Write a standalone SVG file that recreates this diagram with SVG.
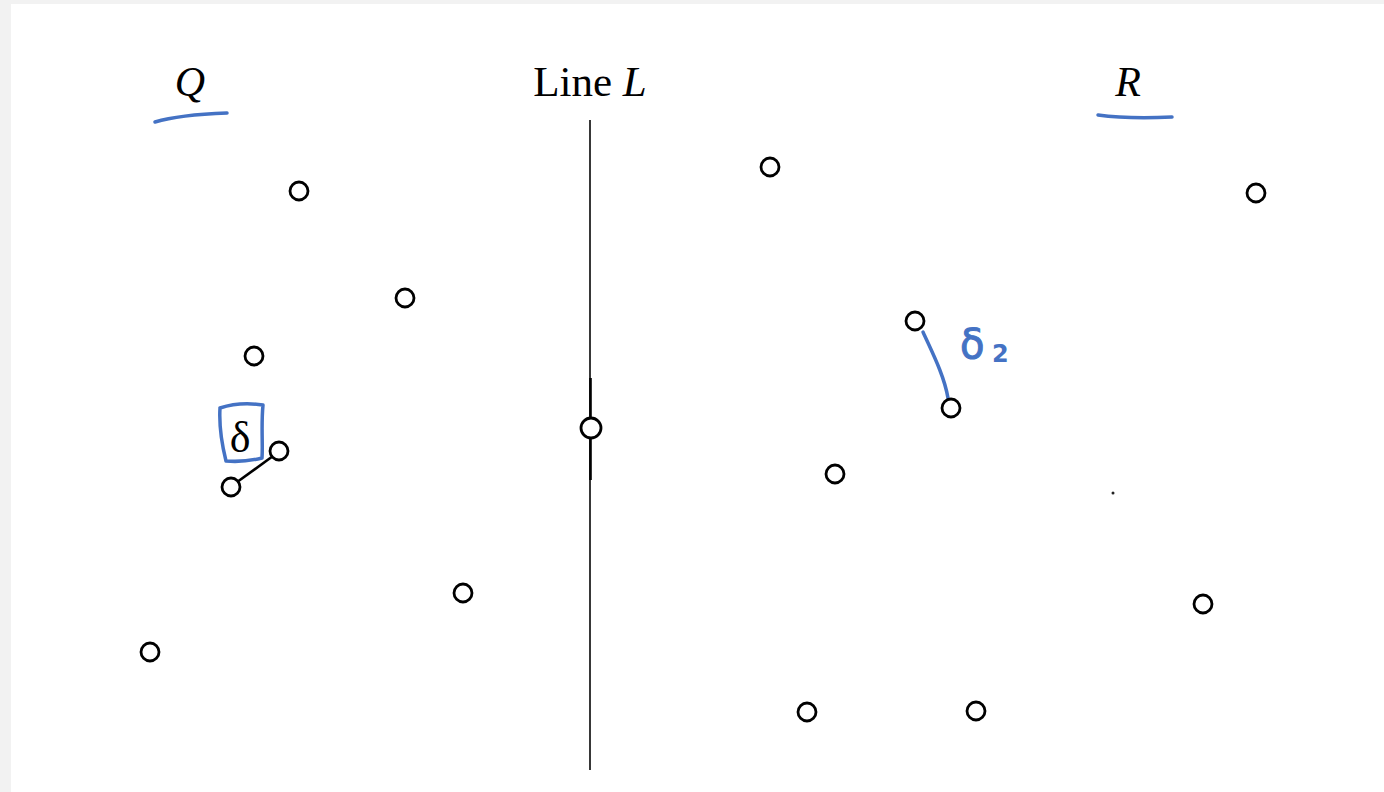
<svg xmlns="http://www.w3.org/2000/svg" width="1384" height="792" viewBox="0 0 1384 792">
<style>
.pt{fill:#fff;stroke:#000;stroke-width:2.8}
.lbl{font-family:"Liberation Serif","DejaVu Serif",serif;fill:#000}
.ink{fill:none;stroke:#4472c4;stroke-width:3.5;stroke-linecap:round;stroke-linejoin:round}
</style>
<rect width="1384" height="792" fill="#f2f2f2"/>
<rect x="11" y="4" width="1373" height="788" fill="#fff"/>
<g id="lineL">
<line x1="590" y1="120" x2="590" y2="770" stroke="#222" stroke-width="1.8"/>
<line x1="590.5" y1="378" x2="590.5" y2="480" stroke="#000" stroke-width="2.6"/>
</g>
<g id="labels">
<text id="labelQ" class="lbl" x="190" y="96" font-size="42" font-style="italic" text-anchor="middle">Q</text>
<text id="labelL" class="lbl" x="590" y="96" font-size="43" text-anchor="middle">Line <tspan font-style="italic">L</tspan></text>
<text id="labelR" class="lbl" x="1128" y="96" font-size="42" font-style="italic" text-anchor="middle">R</text>
<text id="delta" class="lbl" x="240" y="452" font-size="44" text-anchor="middle">δ</text>
</g>
<g id="connectors">
<line x1="233" y1="485" x2="273" y2="456" stroke="#000" stroke-width="2.6"/>
<path class="ink" d="M923,332 C932,352 944,375 948,398"/>
</g>
<g id="points">
<circle id="q1" class="pt" cx="299" cy="191" r="9"/>
<circle id="q2" class="pt" cx="405" cy="298" r="9"/>
<circle id="q3" class="pt" cx="254" cy="356" r="9"/>
<circle id="q4" class="pt" cx="279" cy="451" r="9"/>
<circle id="q5" class="pt" cx="231" cy="487" r="9"/>
<circle id="q6" class="pt" cx="463" cy="593" r="9"/>
<circle id="q7" class="pt" cx="150" cy="652" r="9"/>
<circle id="m1" class="pt" cx="591" cy="428" r="10"/>
<circle id="r1" class="pt" cx="770" cy="167" r="9"/>
<circle id="r2" class="pt" cx="1256" cy="193" r="9"/>
<circle id="r3" class="pt" cx="915" cy="321" r="9"/>
<circle id="r4" class="pt" cx="951" cy="408" r="9"/>
<circle id="r5" class="pt" cx="835" cy="474" r="9"/>
<circle id="r6" class="pt" cx="1203" cy="604" r="9"/>
<circle id="r7" class="pt" cx="807" cy="712" r="9"/>
<circle id="r8" class="pt" cx="976" cy="711" r="9"/>
<circle cx="1113" cy="493" r="1.5" fill="#222"/>
</g>
<g id="annotations">
<path class="ink" d="M155,122 C175,116 200,114 227,113"/>
<path class="ink" d="M1098,115 C1120,118 1150,118 1172,117"/>
<path class="ink" d="M220,408 C235,403 250,403 263,405 C261,425 263,445 262,458 C250,461 238,462 226,461 C222,445 219,425 220,408"/>
<text x="960" y="358" font-family="'DejaVu Sans',sans-serif" font-size="40" fill="#4472c4" stroke="#4472c4" stroke-width="1">δ</text>
<text x="992" y="362" font-family="'DejaVu Sans',sans-serif" font-size="24" fill="#4472c4" font-weight="bold">2</text>
</g>
</svg>
